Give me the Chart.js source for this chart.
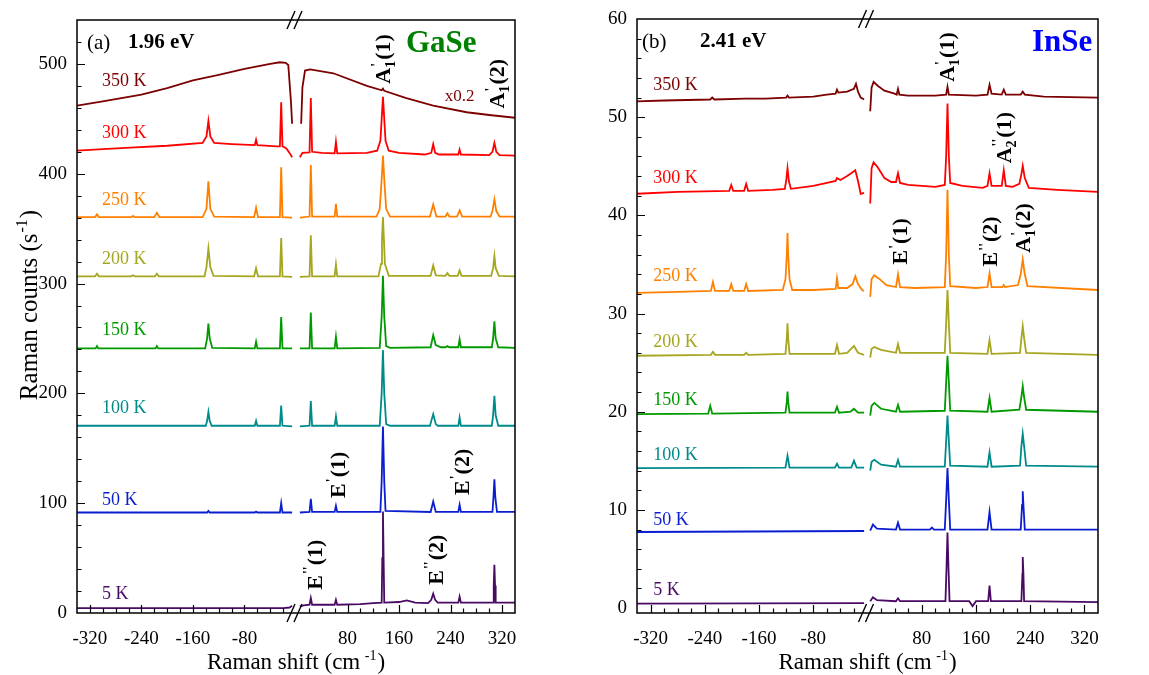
<!DOCTYPE html>
<html>
<head>
<meta charset="utf-8">
<title>GaSe / InSe Raman spectra</title>
<script src="https://cdn.jsdelivr.net/npm/chart.js@4.4.1/dist/chart.umd.min.js"></script>
<style>
  html, body { margin: 0; padding: 0; background: #fff; }
  #wrap { position: relative; width: 1149px; height: 675px; overflow: hidden; }
  canvas { position: absolute; top: 0; }
  #gase { left: 0; }
  #inse { left: 575px; }
</style>
</head>
<body>
<div id="wrap">
  <canvas id="gase" width="575" height="675"></canvas>
  <canvas id="inse" width="574" height="675"></canvas>
</div>
<script>
const TEMPS = ["350 K", "300 K", "250 K", "200 K", "150 K", "100 K", "50 K", "5 K"];
const COLORS = ["#7d0000", "#ff0000", "#ff8000", "#a6a620", "#009a00", "#008b8b", "#0a1ed0", "#4a0a64"];

const X_TICKS = [-320, -240, -160, -80, 80, 160, 240, 320];
const GASE_Y_TICKS = [0, 100, 200, 300, 400, 500];
const INSE_Y_TICKS = [0, 10, 20, 30, 40, 50, 60];

// GaSe, 1.96 eV  ([shift, counts], null = laser cut)
const GASE_350 = [[-340,462],[-300,466],[-240,472],[-200,478],[-160,485],[-120,490],[-80,495.5],[-40,500],[-25,501.5],[-16,501],[-12,499],[-8,467],[-6,445.5],[0,null],
  [8,445.5],[10,478.7],[14,494],[22,495],[58,491.5],[110,480],[133,476],[135,477.5],[137,475.5],[170,469],[213,462],[265,456],[300,453.5],[340,451]];
const GASE_300 = [[-340,421],[-300,422.5],[-250,424],[-200,425.5],[-145,428],[-139,434],[-136,448],[-133,434],[-127,428],[-100,427],[-64,426],[-62,431],[-60,426],[-30,425],[-25,425],[-23,465],[-21,425],[-15,423],[-10,419],[-6,415],[0,null],
  [6,415],[10,419],[21,419.5],[23,469],[25,420],[40,419],[60,418.5],[62,429],[64,418.5],[110,419],[126,421],[131,430],[133.5,455],[135,470],[136.5,455],[139,430],[144,421],[160,419],[200,417.5],[210,419],[213,427],[216,419],[222,417.5],[252,417.5],[254,422],[256,417.5],[300,417],[305,420],[308,428],[311,420],[316,417],[340,416.5]];
const GASE_250 = [[-340,360.5],[-312,360.5],[-309,363],[-306,360.5],[-256,360.5],[-253,361.5],[-250,360.5],[-220,360.5],[-216,364.5],[-212,360.5],[-145,360.5],[-139,368],[-136,393],[-133,368],[-127,361],[-65,360.5],[-62,369],[-59,360.5],[-25,360.5],[-23,406],[-21,360.5],[-6,360],[0,null],
  [6,360],[21,361],[23,408],[25,361],[60,361],[62,372.7],[64,361],[125,361],[130,368],[133,395],[135,416.6],[137,395],[140,368],[146,361],[208,361],[213,372],[218,361],[232,361],[235,364],[238,361],[250,361],[254,366.6],[258,361],[302,361],[305,366],[308,376.6],[311,366],[316,361],[340,361]];
const GASE_200 = [[-340,306.6],[-312,306.6],[-309,309],[-306,306.6],[-256,306.6],[-253,307.5],[-250,306.6],[-219,306.6],[-216,309],[-213,306.6],[-142,306.6],[-139,315],[-136,332],[-133,315],[-128,307],[-65,306.6],[-62,314],[-59,306.6],[-25,306.6],[-23,341.5],[-21,306.6],[-6,306],[0,null],
  [6,306],[21,306.6],[23,344],[25,306.6],[60,306.6],[62,317.5],[64,306.6],[128,306.6],[132,318],[133.5,340],[135,360.5],[136.5,340],[138,318],[144,307],[209,307],[213,316.6],[217,307.5],[232,307],[235,309.5],[238,307],[251,307],[254,312],[257,307],[303,307],[306,314],[308,325],[310,314],[315,307],[340,306.6]];
const GASE_150 = [[-340,241],[-311,241],[-309,243],[-307,241],[-218,241],[-216,243],[-214,241],[-141,241],[-138,250],[-136,263.6],[-134,250],[-130,241.5],[-64,241],[-62,247],[-60,241],[-25,241],[-23,269.6],[-21,241],[-6,241],[0,null],
  [6,241],[21,241],[23,273.6],[25,241],[60,241],[62,251.5],[64,241],[130,241.5],[133,270],[135,307],[137,270],[140,243],[146,241.5],[209,242],[213,253],[217,244],[225,242],[232,242],[235,243],[238,242],[252,242],[254,249],[256,242],[304,242],[306,250],[308,265.7],[310,250],[314,242],[340,241.5]];
const GASE_100 = [[-340,170.5],[-140,170.5],[-138,175],[-136,183],[-134,175],[-131,170.5],[-64,170.5],[-62,175],[-60,170.5],[-25,170.5],[-23,189],[-21,170.5],[-6,170],[0,null],
  [6,170],[21,170.5],[23,193],[25,170.5],[60,170.5],[62,179],[64,170.5],[130,170.5],[133,200],[135,239.4],[137,200],[140,172],[146,170.5],[208,170.5],[211,177],[213,181],[217,172],[220,170.5],[252,170.5],[254,178],[256,170.5],[304,170.5],[306,180],[308,197.8],[310,180],[314,170.5],[340,170.5]];
const GASE_50 = [[-340,91.5],[-138,91.5],[-136,93],[-134,91.5],[-64,91.5],[-62,92.3],[-60,91.5],[-25,91.5],[-23,100],[-21,91.5],[-6,91.5],[0,null],
  [6,91.5],[21,92],[23,104],[25,92],[60,92],[62,97.5],[64,92],[131,92],[133,120],[135,169.7],[137,120],[139,93],[209,92],[213,101.5],[217,92],[252,92],[254,98.5],[256,92],[305,92],[306.5,105],[308,121.8],[309.5,105],[312,92],[340,92]];
const GASE_5 = [[-340,4.5],[-100,4.5],[-20,4.5],[-10,5],[-6,6.5],[0,null],
  [6,6],[12,7],[21,7.5],[23,13.6],[25,7.5],[60,7.5],[62,12],[64,7.5],[100,8],[120,9],[133,9.5],[134,50],[135,92.4],[136,50],[137,9.5],[160,10],[172,11.5],[185,9.5],[205,9],[210,12],[213,17.5],[216,12],[220,9.5],[252,9.5],[254,15],[256,9.5],[306,9.5],[307,25],[308,44],[309,25],[310,9.5],[340,9.5]];

// InSe, 2.41 eV
const INSE_350 = [[-340,51.6],[-300,51.7],[-232,51.8],[-229,52.0],[-226,51.8],[-180,51.9],[-150,51.9],[-120,52.0],[-118,52.2],[-116,52.0],[-80,52.1],[-60,52.3],[-47,52.4],[-45,52.8],[-43,52.5],[-30,52.6],[-20,52.9],[-17,53.4],[-14,52.6],[-10,52.0],[-5,51.8],[0,null],
  [4,50.6],[6,53.0],[9,53.6],[15,53.2],[25,52.7],[40,52.4],[43,52.3],[45,52.9],[47,52.3],[60,52.2],[100,52.2],[116,52.3],[118,53.1],[120,52.3],[160,52.2],[177,52.3],[180,53.3],[183,52.4],[198,52.3],[201,52.8],[204,52.3],[226,52.3],[229,52.6],[232,52.3],[260,52.1],[340,52.0]];
const INSE_300 = [[-340,42.2],[-280,42.4],[-204,42.5],[-201,43.1],[-198,42.5],[-182,42.5],[-179,43.2],[-176,42.5],[-140,42.6],[-122,42.7],[-120,43.5],[-118,44.8],[-116,43.5],[-113,42.7],[-80,43.0],[-60,43.3],[-47,43.5],[-45,43.8],[-40,43.6],[-30,44.0],[-22,44.4],[-18,44.6],[-14,43.5],[-10,42.2],[-5,42.3],[0,null],
  [4,41.2],[6,44.8],[9,45.4],[15,44.9],[25,43.8],[35,43.4],[42,43.4],[45,44.3],[48,43.3],[60,43.1],[100,42.9],[114,43.1],[116,46],[118,51.4],[120,46],[122,43.3],[140,43.0],[170,42.8],[177,43],[180,44.3],[183,43],[198,43],[201,44.6],[204,43],[214,42.9],[224,43.2],[227,44.2],[229,45.05],[232,43.8],[238,42.8],[280,42.6],[340,42.4]];
const INSE_250 = [[-340,32.1],[-280,32.2],[-231,32.3],[-228,33.2],[-225,32.3],[-204,32.3],[-201,33.0],[-198,32.3],[-182,32.3],[-179,33.0],[-176,32.3],[-125,32.4],[-121,33.5],[-119,36],[-118,38.2],[-117,36],[-115,33.5],[-111,32.4],[-80,32.4],[-47,32.5],[-45,33.6],[-43,32.6],[-30,32.6],[-22,33.0],[-18,33.8],[-14,33.0],[-8,32.4],[-5,32.3],[0,null],
  [4,31.7],[6,33.5],[10,33.9],[18,33.5],[28,32.9],[42,32.7],[45,34.0],[48,32.7],[70,32.6],[114,32.7],[116,36],[118,42.6],[120,36],[122,32.8],[160,32.6],[177,32.7],[180,34.1],[183,32.7],[199,32.7],[201,32.9],[203,32.7],[222,32.9],[226,34],[229,35.5],[232,34],[236,32.8],[340,32.4]];
const INSE_200 = [[-340,25.7],[-231,25.8],[-228,26.1],[-225,25.8],[-182,25.8],[-179,26.0],[-176,25.8],[-121,25.9],[-119,27.5],[-118,29.0],[-117,27.5],[-115,25.9],[-48,25.9],[-45,26.8],[-42,25.9],[-30,26.0],[-20,26.7],[-14,26.0],[-5,25.8],[0,null],
  [4,25.5],[6,26.4],[10,26.6],[20,26.3],[42,26.0],[45,26.9],[48,26.0],[114,26],[116,29],[118,32.4],[120,29],[122,26],[177,25.9],[180,27.3],[183,25.9],[225,26],[227,27.5],[229,28.7],[231,27.5],[234,26],[340,25.8]];
const INSE_150 = [[-340,19.75],[-235,19.8],[-232,20.6],[-229,19.8],[-121,19.9],[-119,21],[-118,22.06],[-117,21],[-115,19.9],[-48,19.9],[-45,20.5],[-42,19.9],[-25,20.0],[-20,20.3],[-14,19.9],[-5,19.9],[0,null],
  [4,19.6],[6,20.6],[10,20.9],[20,20.3],[42,20.0],[45,20.7],[48,20.0],[114,20.1],[116,23],[118,25.7],[120,23],[122,20.1],[177,20.0],[180,21.4],[183,20.0],[224,20.2],[227,21.5],[229,22.6],[231,21.5],[234,20.2],[340,20.0]];
const INSE_100 = [[-340,14.26],[-121,14.3],[-118,15.5],[-115,14.3],[-48,14.3],[-45,14.7],[-42,14.3],[-24,14.3],[-20,15.0],[-16,14.3],[-5,14.3],[0,null],
  [4,14.0],[6,14.9],[10,15.1],[20,14.6],[42,14.4],[45,15.1],[48,14.4],[114,14.4],[116,17],[118,19.6],[120,17],[122,14.5],[177,14.4],[180,15.85],[183,14.4],[225,14.5],[227,16.5],[229,17.75],[231,16.5],[234,14.5],[340,14.4]];
const INSE_50 = [[-340,7.75],[-5,7.85],[0,null],
  [4,7.9],[8,8.5],[14,8.1],[42,8.0],[45,8.7],[48,8.0],[92,8.0],[95,8.2],[98,8.0],[114,8.0],[116,11],[118,14.26],[120,11],[122,8.0],[177,8.0],[180,9.8],[183,8.0],[226,8.0],[228,10.5],[229,11.9],[230,10.5],[232,8.0],[340,8.0]];
const INSE_5 = [[-340,0.46],[-5,0.5],[0,null],
  [4,0.7],[8,1.1],[14,0.8],[42,0.7],[45,1.0],[48,0.7],[115,0.7],[116.5,4],[118,7.7],[119.5,4],[121,0.7],[150,0.7],[155,0.2],[160,0.7],[178,0.7],[180,2.3],[182,0.7],[227,0.7],[228.5,3.5],[229,5.2],[230,3.5],[231,0.7],[340,0.6]];

(function () {
  const SERIF = '"Liberation Serif", "Times New Roman", serif';

  function font(size, bold) {
    return (bold ? "bold " : "") + size + "px " + SERIF;
  }

  // text pieces: {t} normal run, {sup, sub} stacked small marks (prime + subscript)
  function runParts(ctx, parts, size, bold, draw) {
    let u = 0;
    parts.forEach(function (p) {
      if (p.t) {
        ctx.font = font(size, bold);
        if (draw) ctx.fillText(p.t, u, 0);
        u += ctx.measureText(p.t).width;
      } else {
        const small = Math.round(size * 0.62);
        ctx.font = font(small, bold);
        let w = 0;
        if (p.sup) {
          if (draw) ctx.fillText(p.sup, u + 1, -size * 0.4);
          w = Math.max(w, ctx.measureText(p.sup).width + 1);
        }
        if (p.sub) {
          if (draw) ctx.fillText(p.sub, u, size * 0.22);
          w = Math.max(w, ctx.measureText(p.sub).width);
        }
        u += w + 1;
      }
    });
    return u;
  }

  const decoPlugin = {
    id: "raman",
    afterDraw: function (chart, args, o) {
      const ctx = chart.ctx;
      const a = chart.chartArea;
      const xs = chart.scales.x;
      const ys = chart.scales.y;
      ctx.save();

      // frame
      ctx.strokeStyle = "#000";
      ctx.lineWidth = 1.5;
      ctx.strokeRect(a.left, a.top, a.right - a.left, a.bottom - a.top);

      // inward ticks
      ctx.lineWidth = 1.2;
      ctx.beginPath();
      for (let v = -340 + 20; v < 340; v += 20) {
        if (v === 0) continue;
        const px = Math.round(xs.getPixelForValue(v)) + 0.5;
        const len = X_TICKS.includes(v) ? 8 : 4.5;
        ctx.moveTo(px, a.bottom);
        ctx.lineTo(px, a.bottom - len);
      }
      for (let v = o.yMinor; v < ys.max; v += o.yMinor) {
        const py = Math.round(ys.getPixelForValue(v)) + 0.5;
        const len = o.yTicks.includes(v) ? 8 : 4.5;
        ctx.moveTo(a.left, py);
        ctx.lineTo(a.left + len, py);
      }
      ctx.stroke();

      // axis break marks
      const bx = xs.getPixelForValue(0) - 1;
      ctx.lineWidth = 1.4;
      ctx.beginPath();
      [a.top, a.bottom].forEach(function (y0) {
        [-4, 3].forEach(function (dx) {
          ctx.moveTo(bx + dx - 4, y0 + 9);
          ctx.lineTo(bx + dx + 4, y0 - 9);
        });
      });
      ctx.stroke();

      // temperature labels
      ctx.textBaseline = "middle";
      ctx.textAlign = "left";
      ctx.font = font(18, false);
      o.temps.forEach(function (t, i) {
        ctx.fillStyle = COLORS[i];
        ctx.fillText(TEMPS[i], xs.getPixelForValue(o.tempX), ys.getPixelForValue(t));
      });

      // header texts
      o.header.forEach(function (h) {
        ctx.fillStyle = h.color || "#000";
        ctx.font = font(h.size, h.bold);
        ctx.fillText(h.text, a.left + h.dx, a.top + h.dy);
      });

      // rotated mode labels
      ctx.textBaseline = "alphabetic";
      ctx.fillStyle = "#000";
      o.modes.forEach(function (m) {
        ctx.save();
        ctx.translate(xs.getPixelForValue(m.x), ys.getPixelForValue(m.y));
        ctx.rotate(-Math.PI / 2);
        ctx.translate(0, 22 * 0.33);
        runParts(ctx, m.parts, 22, true, true);
        ctx.restore();
      });

      if (o.note) {
        ctx.textBaseline = "middle";
        ctx.fillStyle = COLORS[0];
        ctx.font = font(17, false);
        ctx.fillText(o.note.text, xs.getPixelForValue(o.note.x), ys.getPixelForValue(o.note.y));
      }

      // axis titles
      ctx.fillStyle = "#000";
      ctx.textBaseline = "alphabetic";
      const xt = [{ t: "Raman shift (cm" }, { sup: " -1" }, { t: ")" }];
      const xw = runParts(ctx, xt, 23, false, false);
      ctx.save();
      ctx.translate((a.left + a.right) / 2 - xw / 2, 669);
      runParts(ctx, xt, 23, false, true);
      ctx.restore();

      if (o.yTitle) {
        const yt = [{ t: "Raman counts (s" }, { sup: "-1" }, { t: ")" }];
        const yw = runParts(ctx, yt, 25, false, false);
        ctx.save();
        ctx.translate(37, o.yTitle);
        ctx.rotate(-Math.PI / 2);
        ctx.translate(-yw / 2, 0);
        runParts(ctx, yt, 25, false, true);
        ctx.restore();
      }
      ctx.restore();
    }
  };

  function makeChart(id, series, cfg) {
    const datasets = series.map(function (pts, i) {
      return {
        label: TEMPS[i],
        data: pts,
        borderColor: COLORS[i],
        borderWidth: 1.8,
        pointRadius: 0,
        tension: 0,
        spanGaps: false,
        fill: false
      };
    });
    const tickFont = { family: SERIF, size: 19 };
    return new Chart(document.getElementById(id), {
      type: "line",
      data: { datasets: datasets },
      options: {
        responsive: false,
        animation: false,
        devicePixelRatio: 1,
        layout: { padding: cfg.padding },
        plugins: {
          legend: { display: false },
          tooltip: { enabled: false },
          raman: cfg.deco
        },
        scales: {
          x: {
            type: "linear",
            min: -340,
            max: 340,
            afterFit: function (s) { s.height = 62; },
            grid: { display: false },
            border: { display: false },
            ticks: {
              stepSize: 20,
              autoSkip: false,
              maxRotation: 0,
              padding: 7,
              color: "#000",
              font: tickFont,
              callback: function (v) { return X_TICKS.includes(v) ? String(v) : ""; }
            }
          },
          y: {
            type: "linear",
            min: cfg.yMin,
            max: cfg.yMax,
            afterFit: function (s) { s.width = cfg.yWidth; },
            grid: { display: false },
            border: { display: false },
            ticks: {
              stepSize: cfg.deco.yMinor,
              includeBounds: false,
              autoSkip: false,
              padding: 2,
              color: "#000",
              font: tickFont,
              callback: function (v) { return cfg.deco.yTicks.includes(v) ? String(v) : ""; }
            }
          }
        }
      },
      plugins: [decoPlugin]
    });
  }

  const P = "'", PP = "''";

  makeChart("gase", [GASE_350, GASE_300, GASE_250, GASE_200, GASE_150, GASE_100, GASE_50, GASE_5], {
    padding: { top: 20, right: 60, left: 0, bottom: 0 },
    yWidth: 77,
    yMin: 0,
    yMax: 540,
    deco: {
      yMinor: 20,
      yTicks: GASE_Y_TICKS,
      yTitle: 305,
      tempX: -301,
      temps: [484, 436.5, 375.7, 322, 257.5, 186, 102.4, 17.5],
      header: [
        { text: "(a)", dx: 10, dy: 23, size: 21 },
        { text: "1.96 eV", dx: 51, dy: 23, size: 21, bold: true },
        { text: "GaSe", dx: 329, dy: 24, size: 31, bold: true, color: "#008000" }
      ],
      note: { text: "x0.2", x: 231, y: 470 },
      modes: [
        { x: 135, y: 482, parts: [{ t: "A" }, { sup: P, sub: "1" }, { t: "(1)" }] },
        { x: 312, y: 459.4, parts: [{ t: "A" }, { sup: P, sub: "1" }, { t: "(2)" }] },
        { x: 65, y: 104.8, parts: [{ t: "E" }, { sup: P }, { t: "(1)" }] },
        { x: 257.7, y: 107.5, parts: [{ t: "E" }, { sup: P }, { t: "(2)" }] },
        { x: 29.5, y: 21.2, parts: [{ t: "E" }, { sup: PP }, { t: "(1)" }] },
        { x: 217.3, y: 25.7, parts: [{ t: "E" }, { sup: PP }, { t: "(2)" }] }
      ]
    }
  });

  makeChart("inse", [INSE_350, INSE_300, INSE_250, INSE_200, INSE_150, INSE_100, INSE_50, INSE_5], {
    padding: { top: 19, right: 51, left: 0, bottom: 0 },
    yWidth: 62,
    yMin: -0.5,
    yMax: 60,
    deco: {
      yMinor: 2,
      yTicks: INSE_Y_TICKS,
      yTitle: null,
      tempX: -316,
      temps: [53.26, 43.8, 33.8, 27.04, 21.2, 15.6, 8.93, 1.81],
      header: [
        { text: "(b)", dx: 5, dy: 23, size: 21 },
        { text: "2.41 eV", dx: 63, dy: 23, size: 21, bold: true },
        { text: "InSe", dx: 395, dy: 24, size: 31, bold: true, color: "#0000ff" }
      ],
      modes: [
        { x: 117, y: 53.6, parts: [{ t: "A" }, { sup: P, sub: "1" }, { t: "(1)" }] },
        { x: 201.4, y: 45.3, parts: [{ t: "A" }, { sup: PP, sub: "2" }, { t: "(1)" }] },
        { x: 48.1, y: 35.0, parts: [{ t: "E" }, { sup: P }, { t: "(1)" }] },
        { x: 180.8, y: 34.8, parts: [{ t: "E" }, { sup: PP }, { t: "(2)" }] },
        { x: 229.4, y: 36.2, parts: [{ t: "A" }, { sup: P, sub: "1" }, { t: "(2)" }] }
      ]
    }
  });
})();
</script>
</body>
</html>
